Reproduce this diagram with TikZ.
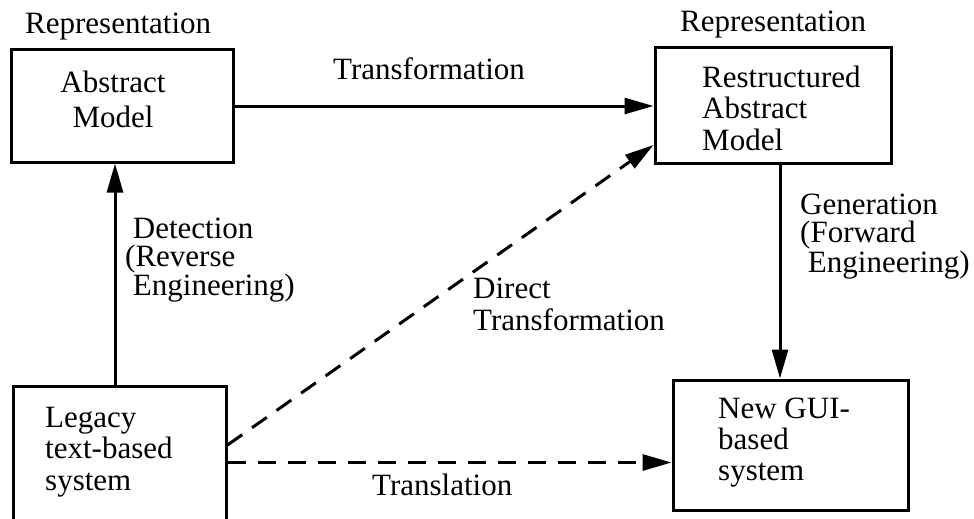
\documentclass[tikz,border=0pt]{standalone}
\usepackage{fontspec}
\setmainfont{Liberation Serif}
\usetikzlibrary{arrows.meta}
\tikzset{
  boxnode/.style={draw, line width=3pt, inner sep=0pt, rectangle},
  lbl/.style={inner sep=0pt, anchor=base west, align=left, font=\fontsize{31}{31}\selectfont},
  conn/.style={line width=3pt, -{Triangle[length=29pt,width=16pt]}},
  dconn/.style={conn, dash pattern=on 18pt off 12pt},
}
\begin{document}
\begin{tikzpicture}[x=1pt,y=-1pt]
\useasboundingbox (0,0) rectangle (974,519);
\fill[white] (0,0) rectangle (974,519);
% boxes
\node[boxnode, minimum width=222pt, minimum height=112pt] (abs) at (122,106) {};
\node[boxnode, minimum width=236pt, minimum height=115pt] (res) at (773,105.5) {};
\node[boxnode, minimum width=213pt, minimum height=150pt] (leg) at (119.5,461) {};
\node[boxnode, minimum width=235pt, minimum height=130pt] (gui) at (790.5,445) {};
% box texts (base anchor = baseline of last line)
\node[lbl, align=center, anchor=base, font=\fontsize{31}{35}\selectfont] (abst) at (113,127) {Abstract\\Model};
\node[lbl, font=\fontsize{31}{31.5}\selectfont] (rest) at (702,150) {Restructured\\Abstract\\Model};
\node[lbl, font=\fontsize{31}{31.5}\selectfont] (legt) at (45,490) {Legacy\\text-based\\system};
\node[lbl, font=\fontsize{31}{31}\selectfont] (guit) at (718,480) {New GUI-\\based\\system};
% headings
\node[lbl] (rep1) at (25,34) {Representation};
\node[lbl] (rep2) at (680,32) {Representation};
% connectors
\draw[conn] (abs.east) -- (abs.east -| res.west);
\draw[conn] ([xshift=-4.5pt]leg.north) -- ([xshift=-4.5pt]leg.north |- abs.south);
\draw[conn] ([xshift=7pt]res.south) -- ([xshift=7pt]res.south |- gui.north);
\draw[dconn] ([yshift=16pt]leg.east) -- ([yshift=-39.5pt]res.west);
\draw[dconn] ([yshift=-1.5pt]leg.east) -- ([yshift=-1.5pt]leg.east -| gui.west);
% labels
\node[lbl] (ltrans) at (333,79) {Transformation};
\node[lbl, font=\fontsize{31}{28.5}\selectfont] (ldet) at (125,295) {\ Detection\\(Reverse\\\ Engineering)};
\node[lbl, font=\fontsize{31}{28}\selectfont] (lgen) at (800,272) {Generation\\(Forward\\\ Engineering)};
\node[lbl, font=\fontsize{31}{32}\selectfont] (ldir) at (473,330) {Direct\\Transformation};
\node[lbl] (ltl) at (372,495) {Translation};
\end{tikzpicture}
\end{document}
